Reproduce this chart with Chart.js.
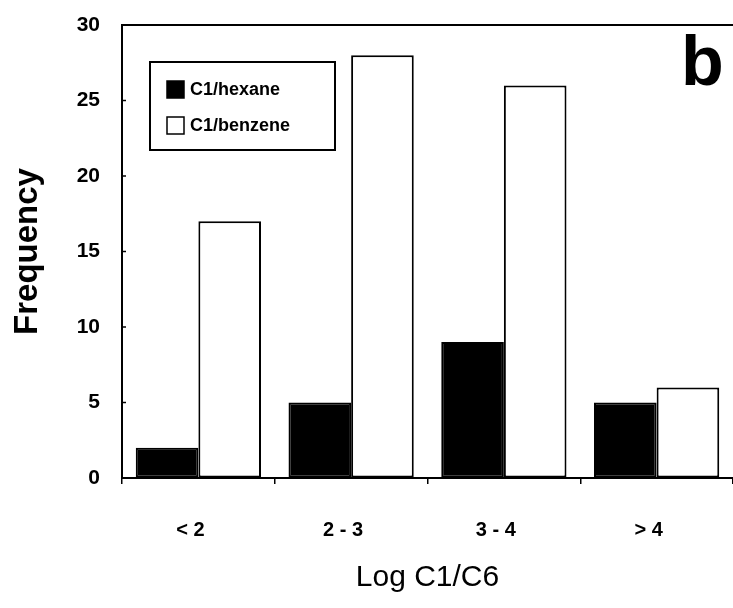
<!DOCTYPE html>
<html>
<head>
<meta charset="utf-8">
<title>Log C1/C6 frequency</title>
<script src="https://cdn.jsdelivr.net/npm/chart.js@4.4.1/dist/chart.umd.min.js"></script>
<style>
  html, body { margin: 0; padding: 0; background: #fff; }
  canvas { display: block; }
</style>
</head>
<body>
<canvas id="chart" width="733" height="608"></canvas>
<script>
// Frequency of log C1/C6 ratios, by solvent pair
const categories = ['< 2', '2 - 3', '3 - 4', '> 4'];
const hexaneCounts = [2, 5, 9, 5];
const benzeneCounts = [17, 28, 26, 6];
const seriesNames = ['C1/hexane', 'C1/benzene'];
const yMin = 0;
const yMax = 30;
const yStep = 5;
const panelLetter = 'b';

const FONT = '"Liberation Sans", Arial, sans-serif';
Chart.defaults.font.family = FONT;
Chart.defaults.color = '#000';

// Frame top edge, inward y ticks, boxed legend and panel letter
const decorations = {
  id: 'decorations',
  afterDatasetsDraw(chart) {
    const { ctx, chartArea: a, scales: { y } } = chart;
    ctx.save();
    ctx.strokeStyle = '#000';
    ctx.lineWidth = 2;
    ctx.beginPath();
    ctx.moveTo(a.left, a.top);
    ctx.lineTo(a.right, a.top);
    ctx.stroke();

    ctx.lineWidth = 1.5;
    y.ticks.forEach(t => {
      const py = y.getPixelForValue(t.value);
      ctx.beginPath();
      ctx.moveTo(a.left, py);
      ctx.lineTo(a.left + 4, py);
      ctx.stroke();
    });

    // legend
    const lx = 150, ly = 62, lw = 185, lh = 88;
    ctx.fillStyle = '#fff';
    ctx.fillRect(lx, ly, lw, lh);
    ctx.lineWidth = 2;
    ctx.strokeRect(lx, ly, lw, lh);
    ctx.font = 'bold 18px ' + FONT;
    ctx.textBaseline = 'middle';
    ctx.textAlign = 'left';
    chart.data.datasets.forEach((ds, i) => {
      const cy = ly + 27 + i * 36;
      ctx.fillStyle = ds.backgroundColor;
      ctx.fillRect(167, cy - 8, 17, 17);
      ctx.lineWidth = 1.5;
      ctx.strokeRect(167, cy - 8, 17, 17);
      ctx.fillStyle = '#000';
      ctx.fillText(ds.label, 190, cy + 1);
    });

    ctx.font = 'bold 70px ' + FONT;
    ctx.textAlign = 'left';
    ctx.textBaseline = 'alphabetic';
    ctx.fillText(panelLetter, 681, 85);
    ctx.restore();
  }
};

new Chart(document.getElementById('chart'), {
  type: 'bar',
  data: {
    labels: categories,
    datasets: [
      {
        label: seriesNames[0],
        data: hexaneCounts,
        backgroundColor: '#000',
        borderColor: '#000',
        borderWidth: 2,
        borderSkipped: false,
        categoryPercentage: 0.82,
        barPercentage: 1.0
      },
      {
        label: seriesNames[1],
        data: benzeneCounts,
        backgroundColor: '#fff',
        borderColor: '#000',
        borderWidth: 2,
        borderSkipped: false,
        categoryPercentage: 0.82,
        barPercentage: 1.0
      }
    ]
  },
  options: {
    responsive: false,
    animation: false,
    layout: { padding: { top: 25, right: 0, bottom: 0, left: 0 } },
    plugins: {
      legend: { display: false },
      tooltip: { enabled: false }
    },
    scales: {
      x: {
        offset: true,
        grid: {
          display: true,
          drawOnChartArea: false,
          offset: true,
          tickLength: 6,
          color: '#000',
          lineWidth: 1.5
        },
        border: { display: true, color: '#000', width: 2 },
        ticks: {
          padding: 34,
          labelOffset: -8,
          font: { size: 20, weight: 'bold' },
          color: '#000'
        },
        title: {
          display: true,
          text: 'Log C1/C6',
          font: { size: 30, weight: 'normal' },
          color: '#000',
          padding: { top: 12, bottom: 12 }
        },
        afterFit(scale) { scale.height = 130; }
      },
      y: {
        min: yMin,
        max: yMax,
        ticks: {
          stepSize: yStep,
          padding: 22,
          font: { size: 21, weight: 'bold' },
          color: '#000'
        },
        grid: {
          display: true,
          drawOnChartArea: false,
          drawTicks: false
        },
        border: { display: true, color: '#000', width: 2 },
        title: {
          display: true,
          text: 'Frequency',
          font: { size: 33, weight: 'bold' },
          color: '#000',
          padding: { top: 8, bottom: 8 }
        },
        afterFit(scale) {
          scale.width = 122;
          scale.paddingTop = 0;
          scale.paddingBottom = 0;
        }
      }
    }
  },
  plugins: [decorations]
});
</script>
</body>
</html>
